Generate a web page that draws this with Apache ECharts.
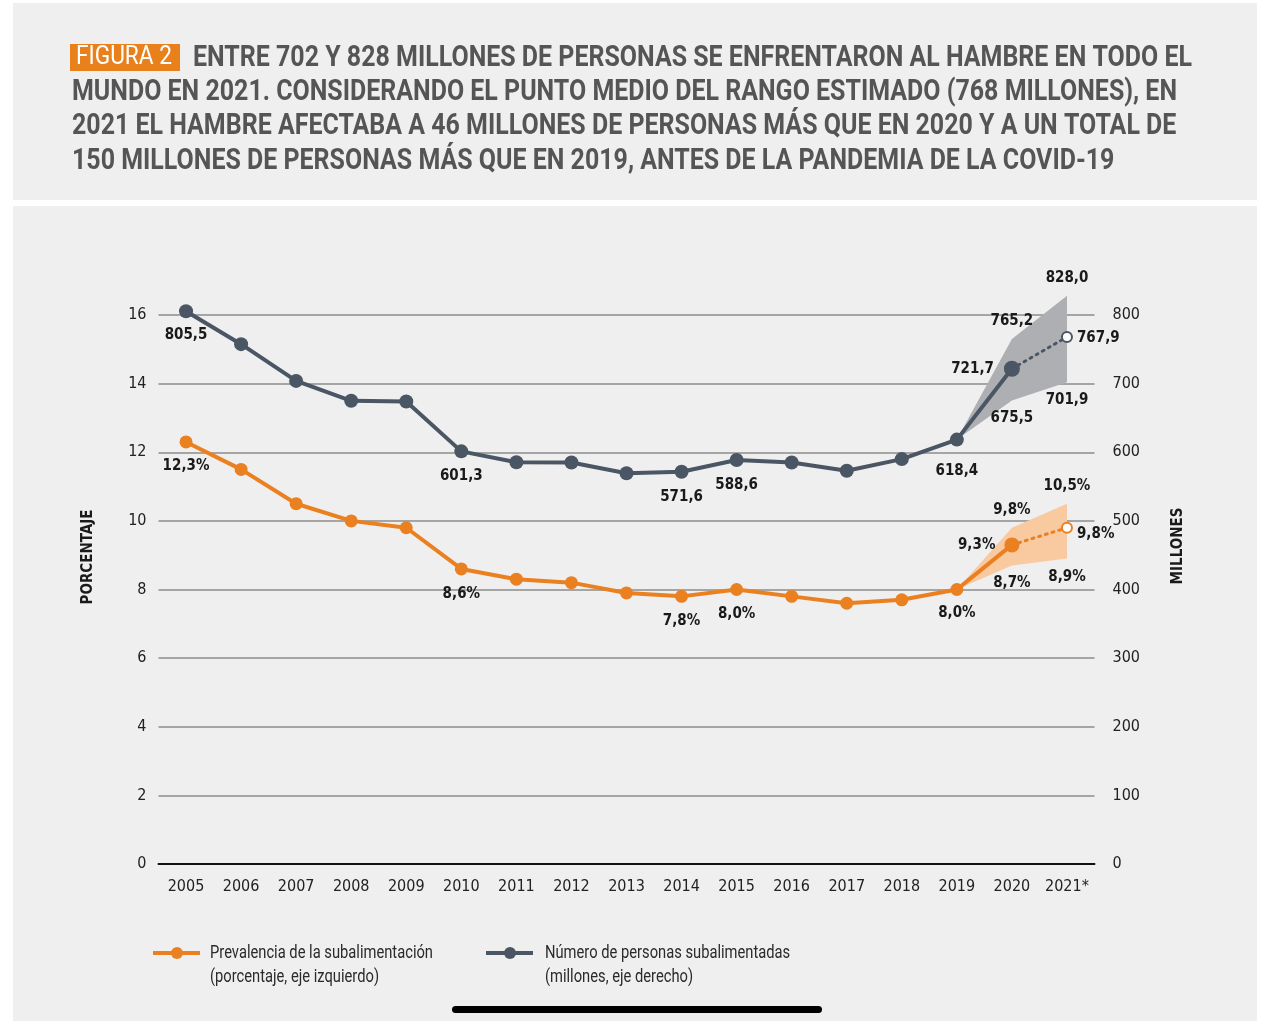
<!DOCTYPE html>
<html>
<head>
<meta charset="utf-8">
<script src="https://cdn.jsdelivr.net/npm/echarts@6/dist/echarts.min.js"></script>
<style>
  html, body { margin: 0; padding: 0; background: #ffffff; }
  #chart { width: 1280px; height: 1021px; }
</style>
</head>
<body>
<div id="chart"></div>
<script>
// datos
var years = ['2005','2006','2007','2008','2009','2010','2011','2012','2013','2014','2015','2016','2017','2018','2019','2020','2021*'];
var prevalencia = [12.3, 11.5, 10.5, 10.0, 9.8, 8.6, 8.3, 8.2, 7.9, 7.8, 8.0, 7.8, 7.6, 7.7, 8.0, 9.3, 9.8];
var personas = [805.5, 757.5, 704.0, 675.0, 674.0, 601.3, 585.5, 585.0, 569.5, 571.6, 588.6, 585.0, 573.0, 590.0, 618.4, 721.7, 767.9];
// rango estimado (2019 = punto de partida)
var prevBajo = ['-','-','-','-','-','-','-','-','-','-','-','-','-','-', 8.0, 8.7, 8.9];
var prevAlto = ['-','-','-','-','-','-','-','-','-','-','-','-','-','-', 8.0, 9.8, 10.5];
var persBajo = ['-','-','-','-','-','-','-','-','-','-','-','-','-','-', 618.4, 675.5, 701.9];
var persAlto = ['-','-','-','-','-','-','-','-','-','-','-','-','-','-', 618.4, 765.2, 828.0];
var leftTicks = [0, 16, 2];
var rightTicks = [0, 800, 100];

var titulo = [
    'ENTRE 702 Y 828 MILLONES DE PERSONAS SE ENFRENTARON AL HAMBRE EN TODO EL',
    'MUNDO EN 2021. CONSIDERANDO EL PUNTO MEDIO DEL RANGO ESTIMADO (768 MILLONES), EN',
    '2021 EL HAMBRE AFECTABA A 46 MILLONES DE PERSONAS MÁS QUE EN 2020 Y A UN TOTAL DE',
    '150 MILLONES DE PERSONAS MÁS QUE EN 2019, ANTES DE LA PANDEMIA DE LA COVID-19'
];

var FONT = '"DejaVu Sans Condensed", "Liberation Sans Narrow", sans-serif';
var TFONT = 'Roboto, "Liberation Sans", sans-serif';
var NARANJA = '#ea8020';
var GRIS = '#4a5663';
var last = years.length - 1;

// squeeze the title font to the width of the original condensed type
var ctx = document.createElement('canvas').getContext('2d');
ctx.font = 'bold 30px ' + TFONT;
var titleScale = 999 / ctx.measureText(titulo[0]).width;
ctx.font = '25px ' + TFONT;
var figScale = 96 / ctx.measureText('FIGURA 2').width;
ctx.font = '18px ' + TFONT;
var legScale = 223 / ctx.measureText('Prevalencia de la subalimentación').width;

// which points carry a label, and where
var grayLabels = {0:['bottom',9], 5:['bottom',10], 9:['bottom',11], 10:['bottom',11], 14:['bottom',17], 15:['left',10], 16:['right',4]};
var orangeLabels = {0:['bottom',10], 5:['bottom',11], 9:['bottom',11], 10:['bottom',11], 14:['bottom',10], 15:['left',9], 16:['right',4]};

function fmt(v, pct) {
    return v.toFixed(1).replace('.', ',') + (pct ? '%' : '');
}

function mainData(values, labels, pct, to, size) {
    return values.map(function (v, i) {
        if (i > to) return '-';
        var item = { value: v, symbolSize: i === to ? size + 2 : size };
        if (labels[i]) {
            item.label = { show: true, position: labels[i][0], distance: labels[i][1], formatter: fmt(v, pct) };
        }
        return item;
    });
}

function dottedData(values, labels, pct, dy) {
    return values.map(function (v, i) {
        if (i < last - 1) return '-';
        if (i === last - 1) return { value: v, symbol: 'none' };
        return { value: v, label: { show: true, position: labels[i][0], distance: labels[i][1], offset: [0, dy], formatter: fmt(v, pct) } };
    });
}

function diff(hi, lo) {
    return hi.map(function (v, i) { return v === '-' ? '-' : +(v - lo[i]).toFixed(1); });
}

var labelStyle = { color: '#1a1a1a', fontFamily: FONT, fontWeight: 'bold', fontSize: 15 };
var hidden = { lineStyle: { opacity: 0 }, itemStyle: { color: 'rgba(0,0,0,0)' }, symbol: 'circle', symbolSize: 1, z: 1, silent: true };

function rangeSeries(name, vals, axis, pct, pos, dist, extra) {
    return Object.assign({
        name: name, type: 'line', yAxisIndex: axis, clip: false,
        data: vals.map(function (v, i) {
            if (v === '-') return '-';
            if (i < last - 1) return { value: v };
            return { value: v, label: { show: true, position: pos, distance: dist, formatter: fmt(v, pct) } };
        }),
        label: labelStyle
    }, hidden, extra || {});
}

function titleText(x, y, text, font, fill, sx) {
    return { type: 'text', x: x, y: y, scaleX: sx, style: { text: text, font: font, fill: fill, verticalAlign: 'middle' } };
}

var chart = echarts.init(document.getElementById('chart'));

var option = {
    backgroundColor: '#ffffff',
    animation: false,
    grid: { left: 158.5, right: 185.5, top: 315, bottom: 157 },
    xAxis: {
        type: 'category',
        data: years,
        boundaryGap: true,
        axisLine: { lineStyle: { color: '#111', width: 2 } },
        axisTick: { alignWithLabel: true, length: 8, lineStyle: { color: '#777', width: 1 } },
        axisLabel: { interval: 0, color: '#222', fontFamily: FONT, fontSize: 16, margin: 15 }
    },
    yAxis: [{
        type: 'value', min: leftTicks[0], max: leftTicks[1], interval: leftTicks[2],
        axisLine: { show: false }, axisTick: { show: false },
        axisLabel: { color: '#222', fontFamily: FONT, fontSize: 16, margin: 12 },
        splitLine: { lineStyle: { color: '#8c8c8c', width: 1.5 } }
    }, {
        type: 'value', min: rightTicks[0], max: rightTicks[1], interval: rightTicks[2],
        axisLine: { show: false }, axisTick: { show: false },
        axisLabel: { color: '#222', fontFamily: FONT, fontSize: 16, margin: 18 },
        splitLine: { show: false }
    }],
    series: [
        // bandas del rango
        rangeSeries('prevBajo', prevBajo, 0, true, 'bottom', 10, { stack: 'prev' }),
        { name: 'prevBanda', type: 'line', yAxisIndex: 0, stack: 'prev', clip: false, symbol: 'none',
          data: diff(prevAlto, prevBajo), lineStyle: { opacity: 0 }, areaStyle: { color: '#f9c9a0', opacity: 1 }, z: 1, silent: true },
        rangeSeries('persBajo', persBajo, 1, false, 'bottom', 10, { stack: 'pers' }),
        { name: 'persBanda', type: 'line', yAxisIndex: 1, stack: 'pers', clip: false, symbol: 'none',
          data: diff(persAlto, persBajo), lineStyle: { opacity: 0 }, areaStyle: { color: '#adafb3', opacity: 1 }, z: 1, silent: true },
        rangeSeries('prevAlto', prevAlto, 0, true, 'top', 10),
        rangeSeries('persAlto', persAlto, 1, false, 'top', 10),
        // líneas principales
        { name: 'Prevalencia de la subalimentación', type: 'line', yAxisIndex: 0, clip: false, z: 3,
          data: mainData(prevalencia, orangeLabels, true, last - 1, 13),
          symbol: 'circle', color: NARANJA,
          lineStyle: { color: NARANJA, width: 4 }, itemStyle: { color: NARANJA },
          label: labelStyle },
        { name: 'prevPunteada', type: 'line', yAxisIndex: 0, clip: false, z: 3,
          data: dottedData(prevalencia, orangeLabels, true, 6),
          symbol: 'emptyCircle', symbolSize: 10,
          lineStyle: { color: NARANJA, width: 3, type: [2, 5], cap: 'round' },
          itemStyle: { color: NARANJA, borderColor: NARANJA, borderWidth: 2 },
          label: labelStyle },
        { name: 'Número de personas subalimentadas', type: 'line', yAxisIndex: 1, clip: false, z: 4,
          data: mainData(personas, grayLabels, false, last - 1, 14),
          symbol: 'circle', color: GRIS,
          lineStyle: { color: GRIS, width: 4 }, itemStyle: { color: GRIS },
          label: labelStyle },
        { name: 'persPunteada', type: 'line', yAxisIndex: 1, clip: false, z: 4,
          data: dottedData(personas, grayLabels, false, 1),
          symbol: 'emptyCircle', symbolSize: 10,
          lineStyle: { color: GRIS, width: 3, type: [2, 5], cap: 'round' },
          itemStyle: { color: GRIS, borderColor: GRIS, borderWidth: 2 },
          label: labelStyle }
    ],
    graphic: [
        // paneles grises
        { type: 'rect', z: -10, shape: { x: 13, y: 3, width: 1244, height: 197 }, style: { fill: '#efefef' } },
        { type: 'rect', z: -10, shape: { x: 13, y: 206, width: 1244, height: 815 }, style: { fill: '#efefef' } },
        // título
        { type: 'rect', shape: { x: 70, y: 44, width: 110, height: 27 }, style: { fill: '#e8801c' } },
        titleText(76, 58, 'FIGURA 2', '25px ' + TFONT, '#ffffff', figScale),
        titleText(193, 58, titulo[0], 'bold 30px ' + TFONT, '#555555', titleScale),
        titleText(72, 92.5, titulo[1], 'bold 30px ' + TFONT, '#555555', titleScale),
        titleText(72, 126.5, titulo[2], 'bold 30px ' + TFONT, '#555555', titleScale),
        titleText(72, 161, titulo[3], 'bold 30px ' + TFONT, '#555555', titleScale),
        // nombres de ejes
        { type: 'text', x: 88, y: 557, rotation: Math.PI / 2, style: { text: 'PORCENTAJE', font: 'bold 15px ' + FONT, fill: '#1a1a1a', align: 'center', verticalAlign: 'middle' } },
        { type: 'text', x: 1178, y: 546, rotation: Math.PI / 2, style: { text: 'MILLONES', font: 'bold 15px ' + FONT, fill: '#1a1a1a', align: 'center', verticalAlign: 'middle' } },
        // leyenda
        { type: 'line', shape: { x1: 153, y1: 953, x2: 200, y2: 953 }, style: { stroke: NARANJA, lineWidth: 4 } },
        { type: 'circle', shape: { cx: 177, cy: 953, r: 6 }, style: { fill: NARANJA } },
        titleText(210, 953, 'Prevalencia de la subalimentación', '18px ' + TFONT, '#2a2a2a', legScale),
        titleText(210, 977, '(porcentaje, eje izquierdo)', '18px ' + TFONT, '#2a2a2a', legScale),
        { type: 'line', shape: { x1: 486, y1: 953, x2: 533, y2: 953 }, style: { stroke: GRIS, lineWidth: 4 } },
        { type: 'circle', shape: { cx: 510, cy: 953, r: 6 }, style: { fill: GRIS } },
        titleText(545, 953, 'Número de personas subalimentadas', '18px ' + TFONT, '#2a2a2a', legScale),
        titleText(545, 977, '(millones, eje derecho)', '18px ' + TFONT, '#2a2a2a', legScale),
        // barra inferior
        { type: 'rect', shape: { x: 452, y: 1006, width: 370, height: 7, r: 3.5 }, style: { fill: '#000000' } }
    ]
};

chart.setOption(option);
</script>
</body>
</html>
